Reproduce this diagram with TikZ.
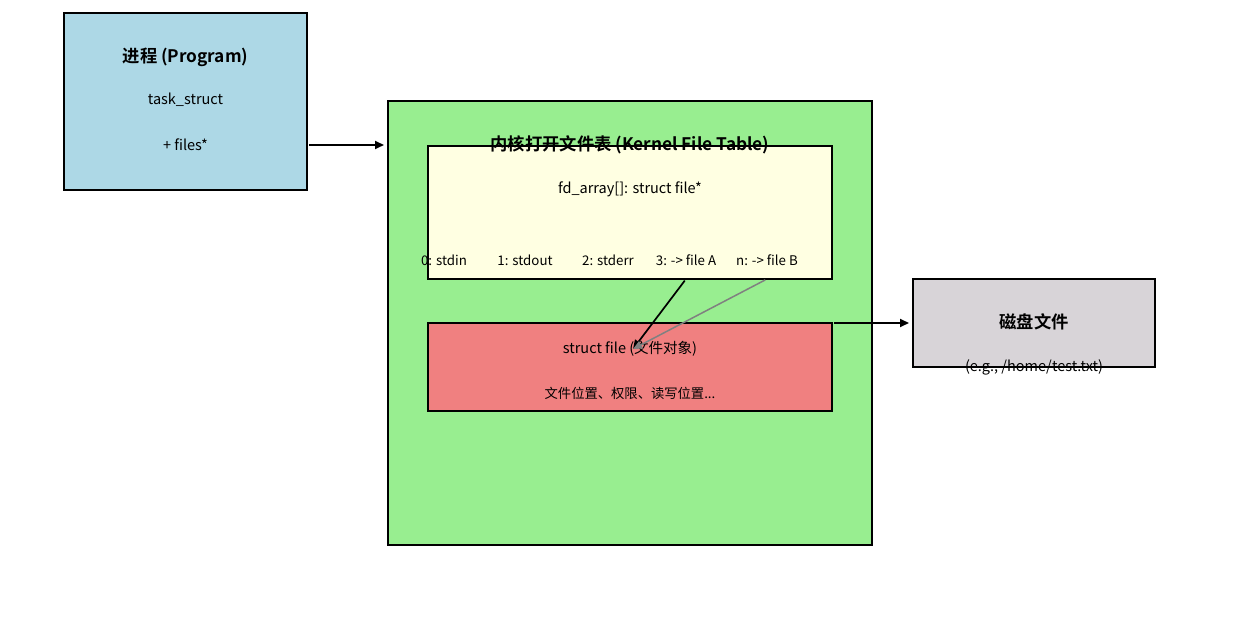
\documentclass[tikz,border=0pt]{standalone}
\usepackage{fontspec}
\setmainfont{Noto Sans CJK SC}[BoldFont={Noto Sans CJK SC Bold}]
\usetikzlibrary{arrows.meta}
\definecolor{procblue}{RGB}{173,216,230}
\definecolor{kernelgreen}{RGB}{152,238,144}
\definecolor{tableyellow}{RGB}{255,255,226}
\definecolor{filered}{RGB}{240,128,128}
\definecolor{diskgray}{RGB}{216,212,216}
\tikzset{
	box/.style={rectangle, inner sep=0pt, outer sep=0pt},
	boxline/.style={line width=1.2pt},
	title/.style={font=\fontsize{17.3}{19}\selectfont\bfseries},
	txt/.style={font=\fontsize{14.5}{16}\selectfont},
	small/.style={font=\fontsize{13.3}{15}\selectfont},
	link/.style={line width=1.7pt, -{Triangle[length=9pt,width=8pt]}},
}
\begin{document}
\begin{tikzpicture}[x=1pt, y=-1pt]
	\useasboundingbox[fill=white] (0,0) rectangle (1260,620);
	% boxes
	\node[box, fill=procblue, minimum width=243pt, minimum height=177pt] (prog) at (185.5,101.5) {};
	\node[box, fill=kernelgreen, minimum width=484pt, minimum height=444pt] (kernel) at (630,323) {};
	\node[box, fill=tableyellow, minimum width=404pt, minimum height=133pt] (tab) at (630,212.5) {};
	\node[box, fill=filered, minimum width=404pt, minimum height=88pt] (sfile) at (630,367) {};
	\node[box, fill=diskgray, minimum width=242pt, minimum height=88pt] (disk) at (1034,323) {};
	% texts
	\node[title] (ptitle) at (185.5,57) {进程 (Program)};
	\node[txt] (task) at (185.5,100) {task\_struct};
	\node[txt] (files) at (185.5,145) {+ files*};
	\node[title] (ktitle) at (630,145) {内核打开文件表 (Kernel File Table)};
	\node[txt] (fdarr) at (630,189) {fd\_array[]: struct file*};
	\node[small] (fd0) at (444,260) {0: stdin};
	\node[small] (fd1) at (525,260) {1: stdout};
	\node[small] (fd2) at (608,260) {2: stderr};
	\node[small] (fdA) at (686,260) {3: -> file A};
	\node[small] (fdB) at (767,260) {n: -> file B};
	\node[txt] (sname) at (630,349) {struct file (文件对象)};
	\node[small] (sinfo) at (630,393) {文件位置、权限、读写位置...};
	\node[title] (dtitle) at (1034,322) {磁盘文件};
	\node[txt] (dpath) at (1034,367) {(e.g., /home/test.txt)};
	% borders
	\foreach \b in {prog,kernel,tab,sfile,disk}
		\draw[boxline] (\b.south west) rectangle (\b.north east);
	% arrows
	\draw[link, shorten <=2pt, shorten >=4pt] (prog.east |- files) -- (kernel.west |- files);
	\draw[link, shorten <=2pt] (fdA |- tab.south) -- ([xshift=3pt]sname.center);
	\draw[link, gray, line width=1.5pt, shorten <=2pt] (fdB |- tab.south) -- ([xshift=3pt]sname.center);
	\draw[link, shorten <=2pt, shorten >=4pt] (sfile.east |- disk.west) -- (disk.west);
\end{tikzpicture}
\end{document}
